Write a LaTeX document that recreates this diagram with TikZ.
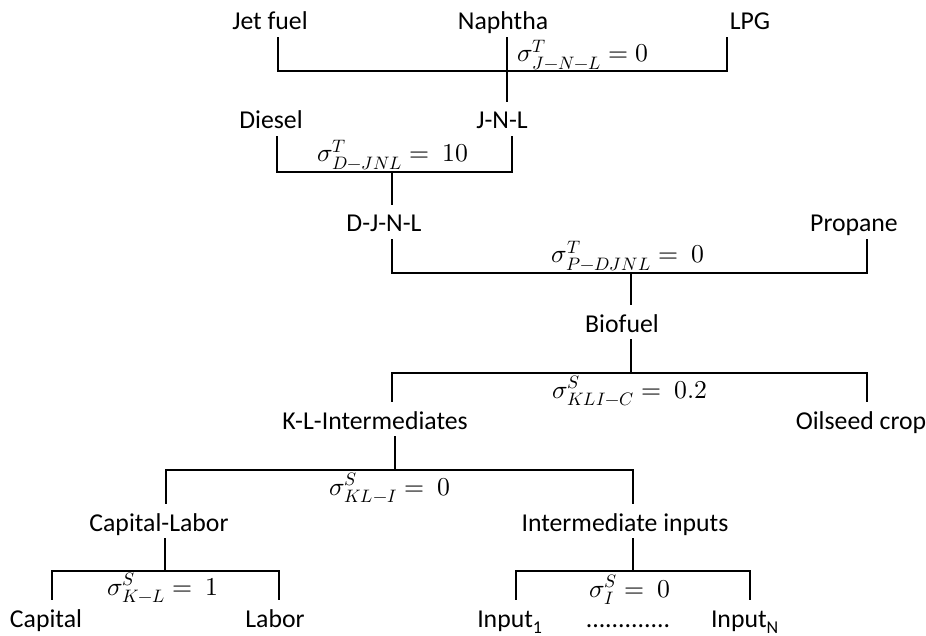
\documentclass[tikz,border=0pt]{standalone}
\usepackage{fontspec}
\usepackage{unicode-math}
\setmainfont{Carlito}
\setmathfont{Latin Modern Math}
\usetikzlibrary{calc}

\begin{document}
\begin{tikzpicture}[x=0.025cm, y=-0.025cm, line width=1.4pt,
				every node/.style={font=\fontsize{18.3}{22}\selectfont, inner sep=0pt},
				nd/.style={anchor=base, text height=18.8pt, text depth=4.6pt},
				el/.style={anchor=base}]
				\useasboundingbox (0,0) rectangle (926,636);
				\node[nd] (jet) at (270,30) {Jet fuel};
				\node[nd] (naph) at (503,30) {Naphtha};
				\node[nd] (lpg) at (750,30) {LPG};
				\node[nd] (dsl) at (271,129) {Diesel};
				\node[nd] (jnl) at (502,129) {J-N-L};
				\node[nd] (djnl) at (384,232) {D-J-N-L};
				\node[nd] (prop) at (854,232) {Propane};
				\node[nd] (bio) at (622,332) {Biofuel};
				\node[nd] (kli) at (375,429) {K-L-Intermediates};
				\node[nd] (oil) at (861,429) {Oilseed crop};
				\node[nd] (kl) at (159,531) {Capital-Labor};
				\node[nd] (ii) at (625,531) {Intermediate inputs};
				\node[nd] (cap) at (46,627) {Capital};
				\node[nd] (lab) at (275,627) {Labor};
				\node[nd] (in1) at (510,627) {Input\textsubscript{1}};
				\node[nd] (dots) at (628,627) {.............};
				\node[nd] (inN) at (745,627) {Input\textsubscript{N}};
				\node[el] (s1) at (583,62) {$\sigma^{T}_{J-N-L} = 0$};
				\node[el] (s2) at (393,162) {$\sigma^{T}_{D-JNL} =\ 10$};
				\node[el] (s3) at (628,263) {$\sigma^{T}_{P-DJNL} =\ 0$};
				\node[el] (s4) at (630,398) {$\sigma^{S}_{KLI-C} =\ 0.2$};
				\node[el] (s5) at (390,495) {$\sigma^{S}_{KL-I} =\ 0$};
				\node[el] (s6) at (163,595) {$\sigma^{S}_{K-L} =\ 1$};
				\node[el] (s7) at (630,597) {$\sigma^{S}_{I} =\ 0$};
				\coordinate (b1l) at (278,71); \coordinate (b1m) at (507,71); \coordinate (b1r) at (727,71);
				\coordinate (b2l) at (277,172); \coordinate (b2m) at (392,172); \coordinate (b2r) at (512,172);
				\coordinate (b3l) at (392,273); \coordinate (b3m) at (631,273); \coordinate (b3r) at (867,273);
				\coordinate (b4l) at (392,373); \coordinate (b4m) at (631,373); \coordinate (b4r) at (867,373);
				\coordinate (b5l) at (166,470); \coordinate (b5m) at (395,470); \coordinate (b5r) at (633,470);
				\coordinate (b6l) at (52,571); \coordinate (b6m) at (165,571); \coordinate (b6r) at (279,571);
				\coordinate (b7l) at (516,571); \coordinate (b7m) at (633,571); \coordinate (b7r) at (750,571);
				\draw (jet.south -| b1l) -- (b1l) -- (b1r) -- (lpg.south -| b1r);
				\draw (naph.south -| b1m) -- (jnl.north -| b1m);
				\draw (dsl.south -| b2l) -- (b2l) -- (b2r) -- (jnl.south -| b2r);
				\draw (b2m) -- (djnl.north -| b2m);
				\draw (djnl.south -| b3l) -- (b3l) -- (b3r) -- (prop.south -| b3r);
				\draw (b3m) -- (bio.north -| b3m);
				\draw (bio.south -| b4m) -- (b4m);
				\draw (kli.north -| b4l) -- (b4l) -- (b4r) -- (oil.north -| b4r);
				\draw (kli.south -| b5m) -- (b5m);
				\draw (kl.north -| b5l) -- (b5l) -- (b5r) -- (ii.north -| b5r);
				\draw (kl.south -| b6m) -- (b6m);
				\draw (cap.north -| b6l) -- (b6l) -- (b6r) -- (lab.north -| b6r);
				\draw (ii.south -| b7m) -- (b7m);
				\draw (in1.north -| b7l) -- (b7l) -- (b7r) -- (inN.north -| b7r);
			\end{tikzpicture}
\end{document}
